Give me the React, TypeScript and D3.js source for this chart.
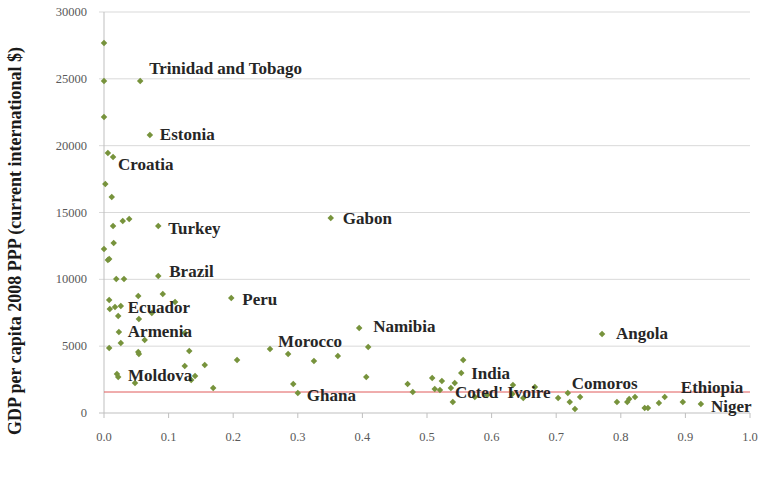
import * as d3 from "d3"

// labelled countries
const labelNames = [
  "Trinidad and Tobago", "Estonia", "Croatia", "Turkey", "Brazil", "Peru",
  "Ecuador", "Armenia", "Moldova", "Morocco", "Gabon", "Namibia", "Ghana",
  "India", "Coted' Ivoire", "Comoros", "Angola", "Ethiopia", "Niger",
]
const labelX = [
  0.056, 0.071, 0.014, 0.084, 0.084, 0.197,
  0.026, 0.023, 0.020, 0.285, 0.351, 0.395, 0.300,
  0.553, 0.537, 0.718, 0.771, 0.896, 0.924,
]
const labelY = [
  24830, 20790, 19150, 13990, 10250, 8600,
  8000, 6060, 2920, 4410, 14590, 6360, 1500,
  2990, 1870, 1500, 5910, 820, 670,
]

// the rest of the countries
const otherX = [
  0.000, 0.000, 0.000, 0.006, 0.002, 0.012, 0.014, 0.029, 0.039, 0.015,
  0.000, 0.006, 0.008, 0.019, 0.031, 0.008, 0.053, 0.091, 0.110, 0.009,
  0.017, 0.022, 0.054, 0.074, 0.026, 0.008, 0.063, 0.125, 0.132, 0.053,
  0.054, 0.125, 0.156, 0.206, 0.257, 0.325, 0.362, 0.022, 0.048, 0.135,
  0.141, 0.169, 0.293, 0.409, 0.406, 0.470, 0.478, 0.508, 0.523, 0.512,
  0.520, 0.543, 0.540, 0.556, 0.574, 0.593, 0.633, 0.632, 0.649, 0.667,
  0.703, 0.721, 0.729, 0.737, 0.794, 0.810, 0.813, 0.822, 0.837, 0.842,
  0.859, 0.868,
]
const otherY = [
  27680, 24830, 22140, 19450, 17130, 16160, 13990, 14360, 14510, 12720,
  12270, 11440, 11520, 10020, 10020, 8450, 8750, 8900, 8300, 7780,
  7930, 7260, 7030, 7480, 5240, 4860, 5460, 5980, 4640, 4560,
  4410, 3520, 3590, 3960, 4790, 3890, 4260, 2690, 2240, 2470,
  2770, 1870, 2170, 4940, 2690, 2170, 1570, 2620, 2390, 1800,
  1720, 2240, 820, 3960, 1200, 1350, 2090, 1420, 1120, 1950,
  1120, 820, 300, 1200, 820, 820, 1050, 1200, 370, 370,
  750, 1200,
]

const yTicks = [0, 5000, 10000, 15000, 20000, 25000, 30000]
const xTicks = [0, 0.1, 0.2, 0.3, 0.4, 0.5, 0.6, 0.7, 0.8, 0.9, 1.0]
const referenceLine = 1570
const yTitle = "GDP per capita 2008 PPP (current international $)"

// label placement relative to its point (layout only)
const labelOffset: Record<string, [number, number]> = {
  "Trinidad and Tobago": [9, -13],
  Estonia: [10, -1],
  Croatia: [5, 7],
  Turkey: [10, 2],
  Brazil: [11, -4],
  Peru: [11, 1],
  Ecuador: [7, 1],
  Armenia: [9, 0],
  Moldova: [11, 2],
  Morocco: [-10, -13],
  Gabon: [12, 1],
  Namibia: [14, -1],
  Ghana: [9, 3],
  India: [10, 0],
  "Coted' Ivoire": [4, 4],
  Comoros: [4, -9],
  Angola: [14, -1],
  Ethiopia: [-2, -15],
  Niger: [10, 2],
}

const width = 762
const height = 480
const margin = { top: 12, right: 12, bottom: 67, left: 104 }

export default function App() {
  const x = d3.scaleLinear().domain([0, 1]).range([margin.left, width - margin.right])
  const y = d3.scaleLinear().domain([0, 30000]).range([height - margin.bottom, margin.top])
  const marker = d3.symbol().type(d3.symbolSquare).size(21)()
  const green = "#77933c"
  const serif = "'Liberation Serif', 'DejaVu Serif', serif"

  const allX = [...otherX, ...labelX]
  const allY = [...otherY, ...labelY]

  return (
    <svg
      width={width}
      height={height}
      style={{ position: "absolute", left: 0, top: 0, background: "#fff", fontFamily: serif }}
    >
      {yTicks.map((t) => (
        <g key={t}>
          <line
            x1={x(0) - 5}
            x2={x(1)}
            y1={y(t)}
            y2={y(t)}
            stroke={t === 0 ? "#bfbfbf" : "#d9d9d9"}
            strokeWidth={1}
          />
          <text
            x={x(0) - 17}
            y={y(t)}
            textAnchor="end"
            dominantBaseline="central"
            fontSize={12.5}
            fill="#595959"
          >
            {t}
          </text>
        </g>
      ))}
      <line x1={x(0)} x2={x(0)} y1={y(30000)} y2={y(0)} stroke="#bfbfbf" />
      {xTicks.map((t) => (
        <g key={t}>
          <line x1={x(t)} x2={x(t)} y1={y(0)} y2={y(0) + 5} stroke="#bfbfbf" />
          <text
            x={x(t)}
            y={y(0) + 24}
            textAnchor="middle"
            dominantBaseline="central"
            fontSize={12.5}
            fill="#595959"
          >
            {t.toFixed(1)}
          </text>
        </g>
      ))}
      <line
        x1={x(0)}
        x2={x(1)}
        y1={y(referenceLine)}
        y2={y(referenceLine)}
        stroke="#e05a5a"
        strokeWidth={1}
      />
      {allX.map((v, i) => (
        <path
          key={i}
          d={marker ?? ""}
          transform={`translate(${x(v)},${y(allY[i])}) rotate(45)`}
          fill={green}
        />
      ))}
      {labelNames.map((name, i) => {
        const [dx, dy] = labelOffset[name]
        return (
          <text
            key={name}
            x={x(labelX[i]) + dx}
            y={y(labelY[i]) + dy}
            dominantBaseline="central"
            fontSize={17}
            fontWeight="bold"
            fill="#262626"
          >
            {name}
          </text>
        )
      })}
      <text
        transform={`translate(15,241) rotate(-90)`}
        textAnchor="middle"
        dominantBaseline="central"
        fontSize={18}
        fontWeight="bold"
        fill="#1a1a1a"
      >
        {yTitle}
      </text>
    </svg>
  )
}
